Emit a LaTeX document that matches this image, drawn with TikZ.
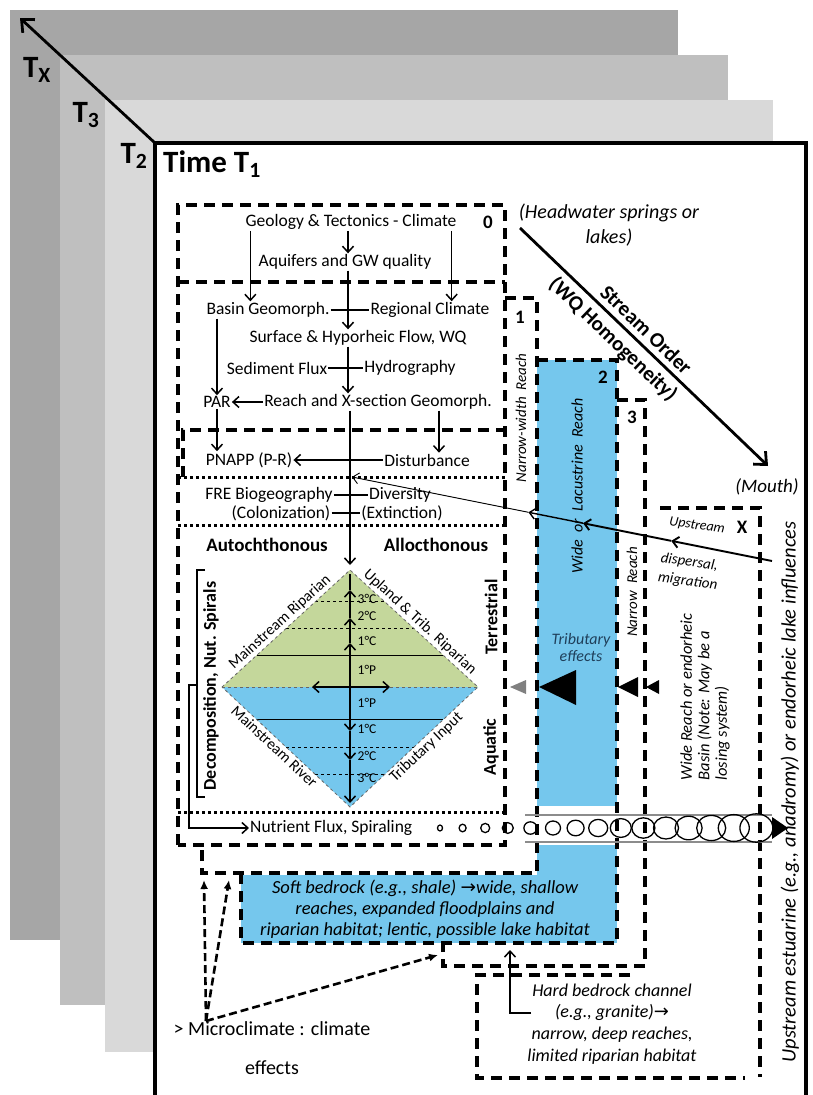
\documentclass[tikz,border=0pt]{standalone}
\usepackage{fontspec}
\setmainfont{Carlito}
\newfontfamily\symfont{DejaVu Sans}
\usetikzlibrary{arrows.meta,calc}

\definecolor{sheetx}{HTML}{A6A6A6}
\definecolor{sheetiii}{HTML}{BFBFBF}
\definecolor{sheetii}{HTML}{D9D9D9}
\definecolor{reachblue}{HTML}{75C7ED}
\definecolor{ripgreen}{HTML}{C4D79B}
\definecolor{tribtxt}{HTML}{1F3F5A}

\newcommand{\fsz}[2]{\fontsize{#1}{#2}\selectfont}

\begin{document}
\begin{tikzpicture}[x=1pt, y=-1pt,
    lbl/.style={font=\fsz{17.5}{20}, inner sep=1pt},
    ilbl/.style={font=\fsz{16}{18}\itshape, inner sep=1pt, align=center},
    blbl/.style={font=\fsz{18}{20}\bfseries, inner sep=1pt},
    boxnum/.style={font=\fsz{19}{20}\bfseries, inner sep=1pt},
    tlbl/.style={font=\fsz{31}{31}\bfseries, inner sep=1pt},
    deg/.style={font=\fsz{13.5}{14}, inner sep=0.5pt},
    edgelbl/.style={font=\fsz{15.5}{16}, inner sep=0pt},
    reachbox/.style={line width=3.2pt, dash pattern=on 11pt off 7pt},
    dotline/.style={line width=3pt, dash pattern=on 3pt off 3pt},
    arr/.style={-{Straight Barb[length=6pt,width=11pt]}, line width=1.5pt},
    dasharr/.style={-{Latex[length=9pt,width=8pt]}, line width=2.6pt, dash pattern=on 8pt off 4pt},
  ]

  \useasboundingbox (0,0) rectangle (813,1095);

  \fill[sheetx] (10,10) rectangle (678,940);
  \fill[sheetiii] (60,55) rectangle (728,1005);
  \fill[sheetii] (105,100) rectangle (773,1052);
  \draw[line width=3.2pt, fill=white] (155,143) rectangle (806,1120);

  \coordinate (corner) at (155,143);
  \coordinate (tx) at (20,18);
  \draw[line width=2.8pt, -{Straight Barb[length=10pt,width=18pt]}] (corner) -- (tx);
  \node[tlbl] (lbltx) at (37,70) {T\textsubscript{X}};
  \node[tlbl] (lblt3) at (86,115) {T\textsubscript{3}};
  \node[tlbl] (lblt2) at (134,156) {T\textsubscript{2}};
  \node[tlbl, anchor=base west] (time) at (162,172) {Time T\textsubscript{1}};

  \fill[reachblue] (537,360) rectangle (617,806);
  \fill[reachblue] (537,845) rectangle (617,875);
  \fill[reachblue] (241,875) rectangle (617,943);

  \coordinate (dT) at (350,570);
  \coordinate (dL) at (222,687);
  \coordinate (dR) at (478,687);
  \coordinate (dB) at (350,807);
  \coordinate (dC) at (350,687);
  \fill[ripgreen] (dL) -- (dT) -- (dR) -- cycle;
  \fill[reachblue] (dL) -- (dB) -- (dR) -- cycle;
  \foreach \t/\s in {0.27/solid, 0.5/dashed, 0.73/dashed} {
      \draw[\s, line width=0.7pt] ($(dL)!\t!(dT)$) -- ($(dR)!\t!(dT)$);
      \draw[\s, line width=0.7pt] ($(dL)!\t!(dB)$) -- ($(dR)!\t!(dB)$);
    }
  \draw[dashed, line width=0.8pt, black!60] (dL) -- (dT) -- (dR) -- (dB) -- cycle;
  \draw[dashed, line width=0.8pt, black!60] (dL) -- (dR);

  \draw[line width=1.4pt] (350,574) -- (350,590);
  \draw[arr] (dC) -- (350,643);
  \draw[arr] (350,643) -- (350,618);
  \draw[arr] (350,618) -- (350,590);
  \draw[arr] (dC) -- (350,731);
  \draw[arr] (350,731) -- (350,760);
  \draw[arr] (350,760) -- (350,803);
  \draw[arr] (dC) -- (312,687);
  \draw[arr] (dC) -- (390,687);

  \foreach \y/\l in {599/3°C, 616/2°C, 641/1°C, 670/1°P, 703/1°P, 729/1°C, 756/2°C, 778/3°C} {
      \node[deg, anchor=west] (deg\y) at (357,\y) {\l};
    }

  \path (dL) -- (dT) node[midway, sloped, above=2pt, edgelbl] (lblmrip) {Mainstream Riparian};
  \path (dT) -- (dR) node[midway, sloped, above=2pt, edgelbl] (lblupl) {Upland \& Trib. Riparian};
  \path (dL) -- (dB) node[pos=0.45, sloped, below=2pt, edgelbl] (lblmriv) {Mainstream River};
  \path (dB) -- (dR) node[pos=0.55, sloped, below=2pt, edgelbl] (lbltrib) {Tributary Input};

  \draw[reachbox] (178,845) -- (178,205) -- (505,205) -- (505,845) -- cycle;
  \draw[reachbox] (178,282) -- (505,282);
  \draw[reachbox] (505,298) -- (537,298) -- (537,873) -- (202,873) -- (202,845);
  \draw[reachbox] (537,360) -- (617,360) -- (617,943) -- (241,943) -- (241,873);
  \draw[reachbox] (617,400) -- (645,400) -- (645,966) -- (443,966) -- (443,943);
  \draw[reachbox] (660,508) -- (760,508) -- (760,1077);
  \draw[reachbox] (630,975) -- (477,975) -- (477,1078) -- (745,1078);
  \draw[reachbox] (183,477) -- (183,430) -- (505,430);
  \draw[dotline] (178,477) -- (505,477);
  \draw[dotline] (178,525) -- (505,525);
  \draw[dotline] (178,812) -- (505,812);

  \node[boxnum] (bnum0) at (488,222) {0};
  \node[boxnum] (bnum1) at (520,317) {1};
  \node[boxnum] (bnum2) at (603,377) {2};
  \node[boxnum] (bnum3) at (632,417) {3};
  \node[boxnum] (bnumx) at (742,527) {X};

  \coordinate (spine) at (348,500);
  \node[lbl] (geo) at (351,222) {Geology \& Tectonics - Climate};
  \node[lbl] (aqui) at (345,262) {Aquifers and GW quality};
  \node[lbl] (basin) at (268,310) {Basin Geomorph.};
  \node[lbl] (regclim) at (430,310) {Regional Climate};
  \node[lbl] (surf) at (358,338) {Surface \& Hyporheic Flow, WQ};
  \node[lbl] (sed) at (277,368) {Sediment Flux};
  \node[lbl] (hydro) at (410,368) {Hydrography};
  \node[lbl] (par) at (217,402) {PAR};
  \node[lbl] (reach) at (378,402) {Reach and X-section Geomorph.};
  \node[lbl] (pnapp) at (249,460) {PNAPP (P-R)};
  \node[lbl] (dist) at (427,460) {Disturbance};
  \node[lbl] (fre) at (269,495) {FRE Biogeography};
  \node[lbl] (diver) at (400,495) {Diversity};
  \node[lbl] (colon) at (281,513) {(Colonization)};
  \node[lbl] (extin) at (402,513) {(Extinction)};
  \node[font=\fsz{19}{20}\bfseries] (auto) at (267,545) {Autochthonous};
  \node[font=\fsz{19}{20}\bfseries] (allo) at (436,545) {Allocthonous};

  \draw[arr] ([xshift=6pt]geo.south west) -- ([xshift=6pt]geo.south west |- basin.north);
  \draw[arr] (geo.south -| spine) -- (aqui.north -| spine);
  \draw[arr] ([xshift=-6pt]geo.south east) -- ([xshift=-6pt]geo.south east |- regclim.north);
  \draw[arr] (aqui.south -| spine) -- (surf.north -| spine);
  \draw[line width=1.5pt] (basin.east) -- (regclim.west);
  \draw[arr] (surf.south -| spine) -- (reach.north -| spine);
  \draw[line width=1.5pt] (sed.east) -- (hydro.west);
  \draw[arr] (basin.south -| par.north) -- (par.north);
  \draw[arr] (reach.west) -- (par.east);
  \draw[arr] (par.south) -- (par.south |- pnapp.north);
  \draw[arr] ([xshift=12pt]dist.north |- reach.south) -- ([xshift=12pt]dist.north);
  \draw[arr] (dist.west) -- (pnapp.east);
  \draw[arr] (reach.south -| dT) -- ([yshift=5pt]dT);
  \draw[line width=1.5pt] (fre.east) -- (diver.west);
  \draw[line width=1.5pt] (colon.east) -- (extin.west);

  \node[blbl, rotate=90] (terr) at (491,617) {Terrestrial};
  \node[blbl, rotate=90] (aqua) at (491,747) {Aquatic};
  \node[blbl, rotate=90] (decomp) at (211,686) {Decomposition, Nut. Spirals};
  \node[lbl, anchor=west] (nflux) at (249,828) {Nutrient Flux, Spiraling};
  \draw[line width=1.4pt] (205,570) -- (197,570) -- (197,797) -- (205,797);
  \draw[arr] (197,685) -- (189,685) -- (189,828) -- (nflux.west);

  \draw[black!45, line width=1.4pt] (525,815) -- (772,815) (525,842) -- (772,842);
  \foreach \i in {0,...,14} {
      \draw[line width=1.3pt] ({440+22.6*\i},828) ellipse ({2.5+1.0*\i} and {3+0.8*\i});
    }
  \coordinate (spiralend) at (788,828);
  \fill (772,817) -- (spiralend) -- (772,839) -- cycle;

  \fill[gray] (510,687) -- (526,680) -- (526,694) -- cycle;
  \fill (539,687) -- (576,670) -- (576,705) -- cycle;
  \fill (618,687) -- (638,677) -- (638,697) -- cycle;
  \fill (646,687) -- (659,680) -- (659,694) -- cycle;

  \node[ilbl, font=\fsz{20}{25}\itshape] (headw) at (609,225) {(Headwater springs or\\lakes)};
  \coordinate (srcpt) at (520,228);
  \coordinate (mouthpt) at (768,466);
  \draw[line width=2.8pt, -{Straight Barb[length=10pt,width=18pt]}] (srcpt) -- (mouthpt)
    node[pos=0.47, sloped, above=2pt, font=\fsz{21}{22}\bfseries] (sorder) {Stream Order}
    node[pos=0.42, sloped, below=2pt, font=\fsz{21}{22}\bfseries] (wqhom) {(WQ Homogeneity)};
  \node[ilbl, font=\fsz{19}{21}\itshape] (mouth) at (767,487) {(Mouth)};

  \node[ilbl, font=\fsz{15}{16}\itshape, rotate=90] (nwreach) at (521,418) {Narrow-width\ \ Reach};
  \node[ilbl, font=\fsz{16}{17}\itshape, rotate=90] (wlreach) at (577,486) {Wide\ \ or\ \ Lacustrine\ \ Reach};
  \node[ilbl, font=\fsz{15}{16}\itshape, rotate=90] (nreach) at (632,592) {Narrow\ \ Reach};
  \node[ilbl, font=\fsz{16}{17}\itshape, text=tribtxt] (tribeff) at (581,647) {Tributary\\effects};
  \node[ilbl, font=\fsz{16.5}{17.5}\itshape, rotate=90, align=left] (xreach) at (705,697) {Wide Reach or endorheic\\Basin (Note: May be a\\losing system)};
  \node[ilbl, font=\fsz{20.5}{22}\itshape, rotate=90] (estuar) at (790,792) {Upstream estuarine (e.g., anadromy) or endorheic lake influences};
  \node[ilbl, font=\fsz{14}{15}\itshape, rotate=-8] (upstr) at (697,526) {Upstream};
  \node[ilbl, font=\fsz{15}{19}\itshape, rotate=-8, align=left] (dispm) at (689,572) {dispersal,\\migration};

  \coordinate (estu) at (772,561);
  \coordinate (hub) at (352,477);
  \draw[arr, line width=1.9pt] (estu) -- ($(estu)!0.24!(hub)$);
  \draw[arr, line width=1.9pt] ($(estu)!0.24!(hub)$) -- ($(estu)!0.45!(hub)$);
  \draw[arr, line width=1.4pt] ($(estu)!0.45!(hub)$) -- ($(estu)!0.58!(hub)$);
  \draw[arr, line width=0.9pt] ($(estu)!0.58!(hub)$) -- (hub);

  \node[ilbl, font=\fsz{18.5}{21}\itshape] (soft) at (425,909) {Soft bedrock (e.g., shale) {\symfont→}wide, shallow\\reaches, expanded floodplains and\\riparian habitat; lentic, possible lake habitat};
  \node[ilbl, font=\fsz{18}{21.7}\itshape] (hard) at (612,1024) {Hard bedrock channel\\(e.g., granite){\symfont→}\\narrow, deep reaches,\\limited riparian habitat};
  \coordinate (hardin) at (531,1013);
  \coordinate (softbot) at (510,950);
  \draw[arr] (hardin) -- (softbot |- hardin) -- (softbot);

  \node[font=\fsz{20}{39}, align=center] (micro) at (272,1048) {> Microclimate : climate\\effects};
  \coordinate (mc) at (206,1021);
  \draw[dasharr] (mc) -- (204,880);
  \draw[dasharr] (mc) -- (229,880);
  \draw[dasharr] (mc) -- (438,955);

\end{tikzpicture}
\end{document}
